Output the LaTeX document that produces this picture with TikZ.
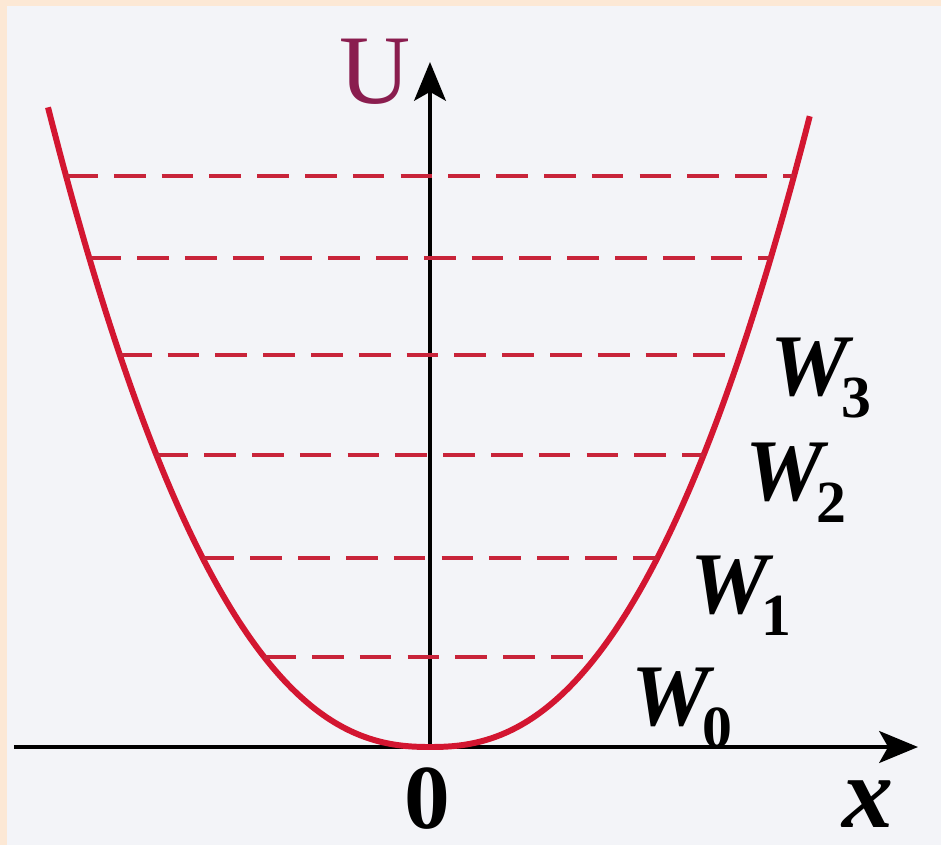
\documentclass[tikz,border=0pt]{standalone}
\usepackage{fontspec}
\setmainfont{Liberation Serif}
\usetikzlibrary{arrows.meta}
\definecolor{peach}{HTML}{FCE8D5}
\definecolor{paper}{HTML}{F3F4F8}
\definecolor{curvered}{HTML}{D31631}
\definecolor{dashred}{HTML}{C8243A}
\definecolor{ucolor}{HTML}{8A1D4F}
\newcommand\wlab[1]{\textbf{\textit{W}}\kern-3.5pt\raisebox{-6.5pt}{\fontsize{17}{20}\selectfont\bfseries #1}}

\begin{document}
\begin{tikzpicture}[>={Stealth[length=11pt,width=9pt,inset=2.5pt]},
  lvline/.style={dashred,line width=1.4pt,dash pattern=on 9pt off 4.6pt},
  wlabel/.style={inner sep=0pt,anchor=base west,font=\fontsize{25}{30}\selectfont}]
  \fill[peach] (-4.30,-0.98) rectangle (5.11,7.47);
  \fill[paper] (-4.23,-0.98) rectangle (5.11,7.41);
  \useasboundingbox (-4.30,-0.98) rectangle (5.11,7.47);
  % axes
  \coordinate (O) at (0,0);
  \coordinate (xs) at (-4.16,0);
  \coordinate (xe) at (4.88,0);
  \coordinate (ye) at (0,6.85);
  \draw[->,line width=1.4pt] (xs) -- (xe);
  \draw[->,line width=1.2pt] (O) -- (ye);
  % potential curve
  \draw[curvered,line width=1.7pt] plot[domain=-3.82:3.80,samples=201] ({\x},{0.2743*abs(\x)^2.35});
  % energy levels
  \foreach \u in {5.71,4.89,3.92,2.92,1.89,0.90} {
    \pgfmathsetmacro\xr{(\u/0.2743)^(1/2.35)}
    \draw[lvline] (-\xr,\u) -- (\xr,\u);
  }
  \node[wlabel] (w3) at (3.40,3.52) {\wlab{3}};
  \node[wlabel] (w2) at (3.15,2.47) {\wlab{2}};
  \node[wlabel] (w1) at (2.60,1.34) {\wlab{1}};
  \node[wlabel] (w0) at (2.01,0.22) {\wlab{0}};
  \node[inner sep=0pt,anchor=base,text=ucolor,font=\fontsize{28}{32}\selectfont] (U) at (-0.55,6.44) {U};
  \node[inner sep=0pt,anchor=base,font=\fontsize{26}{30}\selectfont\bfseries] (zero) at (-0.03,-0.81) {0};
  \node[inner sep=0pt,anchor=base west,font=\fontsize{29}{32}\selectfont\bfseries\itshape] (xl) at (4.12,-0.80) {x};
\end{tikzpicture}
\end{document}
